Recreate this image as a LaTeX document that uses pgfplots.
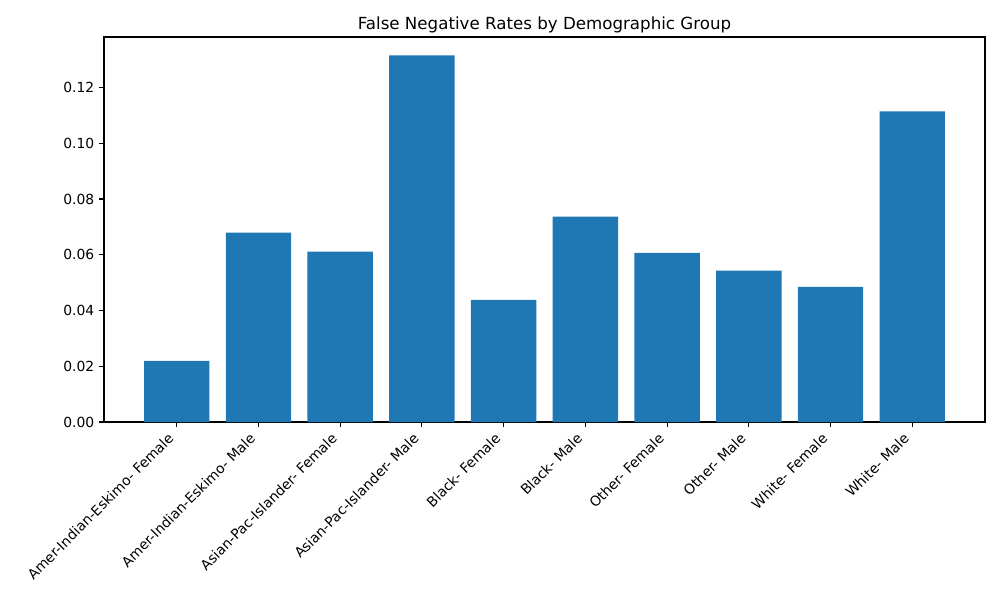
\documentclass[border=0pt]{standalone}
\usepackage{pgfplots}
\pgfplotsset{compat=1.18}
\usepackage{fontspec}
\setmainfont{DejaVu Sans}
\definecolor{mplblue}{HTML}{1F77B4}
\begin{document}
\begin{tikzpicture}
\useasboundingbox (0,0) rectangle (720pt,432pt);
\begin{axis}[
  at={(74.88pt,128.16pt)}, anchor=south west,
  scale only axis, width=634.32pt, height=277.2pt,
  xmin=-0.89, xmax=9.89, ymin=0, ymax=0.13808,
  xtick={0,...,9},
  xticklabels={Amer-Indian-Eskimo- Female, Amer-Indian-Eskimo- Male, Asian-Pac-Islander- Female, Asian-Pac-Islander- Male, Black- Female, Black- Male, Other- Female, Other- Male, White- Female, White- Male},
  xticklabel style={xshift=-7pt, yshift=-2pt, rotate=45, anchor=north east, font=\fontsize{10}{12}\selectfont, inner sep=1pt},
  ytick={0,0.02,0.04,0.06,0.08,0.10,0.12},
  yticklabel style={/pgf/number format/.cd, fixed, fixed zerofill, precision=2, /pgf/number format/assume math mode=true, /tikz/.cd, font=\fontsize{10}{12}\selectfont},
  scaled y ticks=false,
  tick align=outside, major tick length=3.5pt,
  every tick/.style={black, line width=0.8pt},
  axis line style={line width=0.8pt},
  xtick pos=bottom, ytick pos=left,
  title={False Negative Rates by Demographic Group},
  title style={font=\fontsize{12}{14}\selectfont, yshift=-6.3pt},
]
\addplot[ybar, bar width=0.8, bar shift=0pt, fill=mplblue, draw=none] coordinates {
(0,0.0219) (1,0.0679) (2,0.0611) (3,0.1315) (4,0.0438)
(5,0.0737) (6,0.0607) (7,0.0543) (8,0.0485) (9,0.1114)
};
\end{axis}
\end{tikzpicture}
\end{document}
